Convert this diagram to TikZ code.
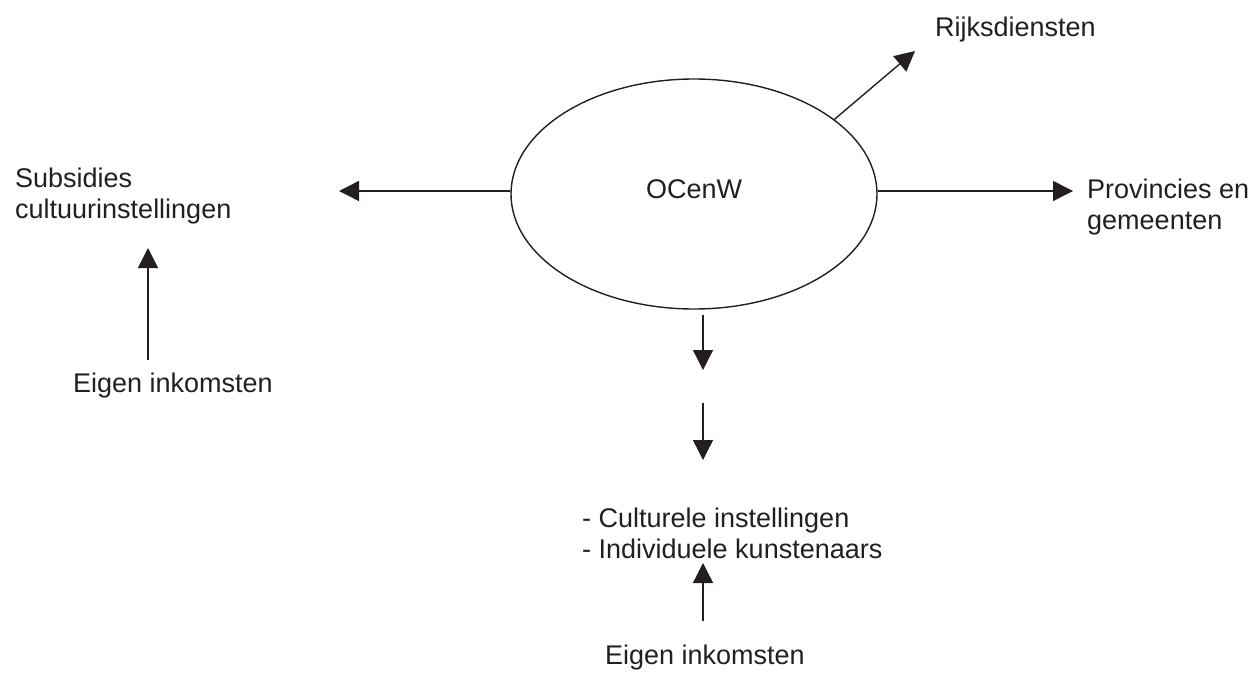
\documentclass[tikz,border=0pt]{standalone}
\usepackage{fontspec}
\setmainfont{Liberation Sans}
\usetikzlibrary{arrows.meta,shapes.geometric}
\definecolor{ink}{HTML}{231F20}
\tikzset{
  conn/.style={draw=ink,line width=1.4pt,-{Triangle[length=20pt,width=20pt]}},
  lbl/.style={inner sep=0pt,text=ink,font=\fontsize{27}{31.5}\selectfont},
}
\begin{document}
\begin{tikzpicture}[x=1pt,y=-1pt]
\useasboundingbox (0,0) rectangle (1258,691);
\node[ellipse,draw=ink,line width=1.4pt,minimum width=366pt,minimum height=230pt,inner sep=0pt] (oc) at (694,194) {};
\node[lbl,anchor=base] (octxt) at (694,198) {OCenW};
\node[lbl,anchor=base west] (rijk) at (935,36) {Rijksdiensten};
\node[lbl,anchor=base west,align=left] (subs) at (15,218.5) {Subsidies\\cultuurinstellingen};
\node[lbl,anchor=base west,align=left] (prov) at (1087,229.5) {Provincies en\\gemeenten};
\node[lbl,anchor=base] (eig1) at (173,392) {Eigen inkomsten};
\node[lbl,anchor=base west,align=left] (cult) at (582,558.5) {- Culturele instellingen\\- Individuele kunstenaars};
\node[lbl,anchor=base] (eig2) at (705,664) {Eigen inkomsten};
\coordinate (lt) at (339,191);
\coordinate (rt) at (1073,191);
\coordinate (rk) at (915,51);
\coordinate (d1a) at (703,315);
\coordinate (d1b) at (703,370);
\coordinate (d2a) at (703,403);
\coordinate (d2b) at (703,460);
\coordinate (u2a) at (703,621);
\coordinate (u2b) at (703,563);
\coordinate (u1a) at (148,360);
\coordinate (u1b) at (148,248);
\draw[conn] (oc.west |- lt) -- (lt);
\draw[conn] (oc.east |- rt) -- (rt);
\draw[conn] (oc.28) -- (rk);
\draw[conn] (d1a) -- (d1b);
\draw[conn] (d2a) -- (d2b);
\draw[conn] (u2a) -- (u2b);
\draw[conn] (u1a) -- (u1b);
\end{tikzpicture}
\end{document}
